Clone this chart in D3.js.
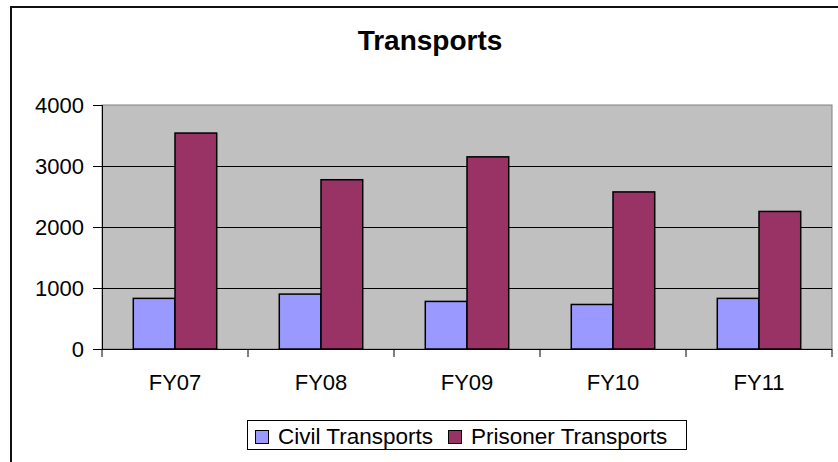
<!DOCTYPE html>
<html>
<head>
<meta charset="utf-8">
<script src="https://cdn.jsdelivr.net/npm/d3@7"></script>
<style>
  body { margin: 0; background: #fff; }
  svg { display: block; font-family: "Liberation Sans", Arial, sans-serif; }
</style>
</head>
<body>
<svg width="838" height="462"></svg>
<script>
// data
let years = ["FY07", "FY08", "FY09", "FY10", "FY11"];
let civil = [830, 900, 780, 730, 830];
let prisoner = [3540, 2775, 3150, 2575, 2255];
let seriesNames = ["Civil Transports", "Prisoner Transports"];
let seriesColors = ["#9999FF", "#993366"];
let yTicks = [0, 1000, 2000, 3000, 4000];

let svg = d3.select("svg");

// outer chart frame (runs off the right and bottom edge)
svg.append("rect")
    .attr("x", 11).attr("y", 7)
    .attr("width", 900).attr("height", 600)
    .attr("fill", "#fff")
    .attr("stroke", "#111")
    .attr("stroke-width", 2);

let plot = {left: 102, right: 832, top: 105, bottom: 349};

let x = d3.scaleBand()
    .domain(years)
    .range([plot.left, plot.right])
    .paddingInner(0)
    .paddingOuter(0);

let xInner = d3.scaleBand()
    .domain([0, 1])
    .range([0, x.bandwidth()])
    .paddingOuter(0.75)   // 150% gap like excel
    .paddingInner(0);

let y = d3.scaleLinear()
    .domain([0, 4000])
    .range([plot.bottom, plot.top]);

// plot background
svg.append("rect")
    .attr("x", plot.left).attr("y", plot.top)
    .attr("width", plot.right - plot.left)
    .attr("height", plot.bottom - plot.top)
    .attr("fill", "#C0C0C0")
    .attr("stroke", "#808080")
    .attr("stroke-width", 1);

// gridlines
svg.append("g")
    .selectAll("line")
    .data(yTicks.filter(d => d > 0 && d < 4000))
    .enter()
    .append("line")
    .attr("x1", plot.left).attr("x2", plot.right)
    .attr("y1", d => Math.round(y(d)) + 0.5)
    .attr("y2", d => Math.round(y(d)) + 0.5)
    .attr("stroke", "#000")
    .attr("stroke-width", 1);

// bars
let rows = years.map((yr, i) => ({year: yr, vals: [civil[i], prisoner[i]]}));

let groups = svg.append("g")
    .selectAll("g")
    .data(rows)
    .enter()
    .append("g")
    .attr("transform", d => "translate(" + x(d.year) + ",0)");

groups.selectAll("rect")
    .data(d => d.vals)
    .enter()
    .append("rect")
    .attr("x", (d, i) => xInner(i))
    .attr("y", d => y(d))
    .attr("width", xInner.bandwidth())
    .attr("height", d => plot.bottom - y(d))
    .attr("fill", (d, i) => seriesColors[i])
    .attr("stroke", "#000")
    .attr("stroke-width", 1.5);

// y axis
let yAxis = d3.axisLeft(y)
    .tickValues(yTicks)
    .tickSize(9)
    .tickPadding(9)
    .tickFormat(d3.format("d"));

let gy = svg.append("g")
    .attr("transform", "translate(" + plot.left + ",0)")
    .call(yAxis);
gy.select(".domain").attr("stroke", "#000");
gy.selectAll("text").attr("font-size", 22).attr("fill", "#000")
    .attr("font-family", "Liberation Sans, Arial, sans-serif");

// x axis with ticks on category boundaries
svg.append("line")
    .attr("x1", plot.left).attr("x2", plot.right)
    .attr("y1", plot.bottom + 0.5).attr("y2", plot.bottom + 0.5)
    .attr("stroke", "#000");

svg.append("g")
    .selectAll("line")
    .data(years.concat(["end"]))
    .enter()
    .append("line")
    .attr("x1", (d, i) => i < years.length ? x(d) : plot.right)
    .attr("x2", (d, i) => i < years.length ? x(d) : plot.right)
    .attr("y1", plot.bottom)
    .attr("y2", plot.bottom + 8)
    .attr("stroke", "#000");

svg.append("g")
    .selectAll("text")
    .data(years)
    .enter()
    .append("text")
    .attr("x", d => x(d) + x.bandwidth() / 2)
    .attr("y", 390)
    .attr("text-anchor", "middle")
    .attr("font-size", 22)
    .text(d => d);

// title
svg.append("text")
    .attr("x", 430)
    .attr("y", 50)
    .attr("text-anchor", "middle")
    .attr("font-size", 28)
    .attr("font-weight", "bold")
    .text("Transports");

// legend
let legend = svg.append("g");
legend.append("rect")
    .attr("x", 247.5).attr("y", 420.5)
    .attr("width", 439).attr("height", 29)
    .attr("fill", "#fff")
    .attr("stroke", "#000");

let legendX = [255, 448];
let items = legend.selectAll("g")
    .data(seriesNames)
    .enter()
    .append("g")
    .attr("transform", (d, i) => "translate(" + legendX[i] + ",0)");

items.append("rect")
    .attr("x", 0.5).attr("y", 430.5)
    .attr("width", 13).attr("height", 13)
    .attr("fill", (d, i) => seriesColors[i])
    .attr("stroke", "#000");

items.append("text")
    .attr("x", 23)
    .attr("y", 444)
    .attr("font-size", 22.5)
    .text(d => d);
</script>
</body>
</html>
